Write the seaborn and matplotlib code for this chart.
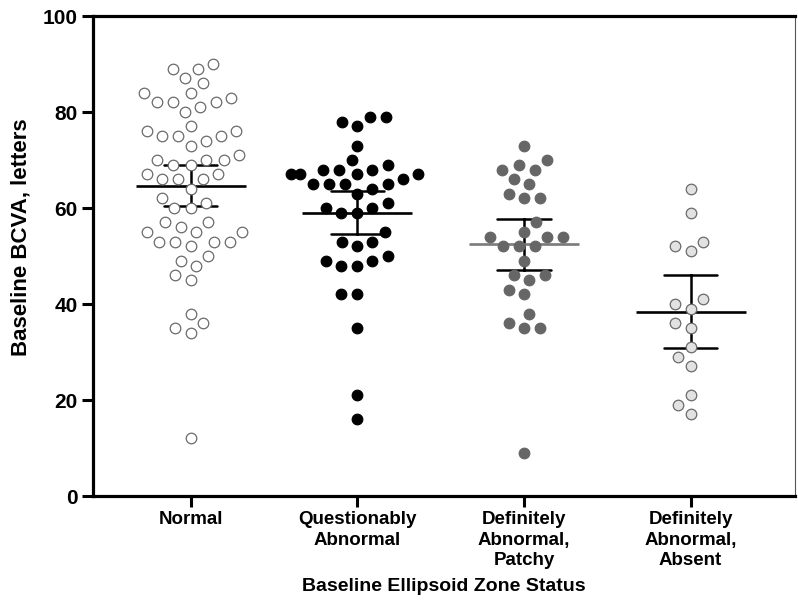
import numpy as np
import pandas as pd
import matplotlib
matplotlib.use("Agg")
import matplotlib.pyplot as plt
import seaborn as sns

groups = ["Normal", "Questionably\nAbnormal", "Definitely\nAbnormal,\nPatchy", "Definitely\nAbnormal,\nAbsent"]

normal = [90, 89, 89, 87, 86, 84, 84, 83, 82, 82, 82, 81, 80, 77, 76, 76, 75, 75, 75, 74,
          73, 71, 70, 70, 70, 69, 69, 67, 67, 66, 66, 66, 64, 62, 61, 60, 60, 57, 57, 56,
          55, 55, 55, 53, 53, 53, 53, 52, 50, 49, 48, 46, 45, 38, 36, 35, 34, 12]
questionable = [79, 79, 78, 77, 73, 70, 69, 68, 67, 68, 67, 67, 67, 68, 66, 65, 65, 65, 65, 64,
                63, 61, 60, 60, 59, 59, 55, 53, 53, 52, 50, 48, 49, 48, 49, 42, 42, 35, 21, 16]
patchy = [73, 70, 69, 68, 68, 66, 65, 63, 62, 62, 57, 55, 54, 54, 54, 52, 52, 52, 49, 46,
          46, 45, 43, 42, 38, 36, 35, 35, 9]
absent = [64, 59, 53, 52, 51, 41, 40, 39, 36, 35, 31, 29, 27, 21, 19, 17]

fill_colors = ["#ffffff", "#000000", "#666666", "#e2e2e2"]
edge_colors = ["#6a6a6a", "#000000", "#666666", "#6a6a6a"]
mean_colors = ["#000000", "#000000", "#7a7a7a", "#000000"]

values = [normal, questionable, patchy, absent]
df = pd.DataFrame({
    "group": np.concatenate([[g] * len(v) for g, v in zip(groups, values)]),
    "value": np.concatenate(values).astype(float),
})


def t_ci(v):
    v = np.asarray(v, dtype=float)
    n = len(v)
    m = v.mean()
    se = v.std(ddof=1) / np.sqrt(n)
    nu = n - 1
    z = 1.959964
    t = (z + (z**3 + z) / (4 * nu) + (5 * z**5 + 16 * z**3 + 3 * z) / (96 * nu**2)
         + (3 * z**7 + 19 * z**5 + 17 * z**3 - 15 * z) / (384 * nu**3))
    return m - t * se, m + t * se


sns.set_theme(style="ticks")
plt.rcParams["font.family"] = ["Liberation Sans", "DejaVu Sans"]
plt.rcParams["font.weight"] = "bold"
for k in ["text.color", "axes.labelcolor", "xtick.color", "ytick.color",
          "xtick.labelcolor", "ytick.labelcolor"]:
    plt.rcParams[k] = "black"

fig = plt.figure(figsize=(7.98, 6.06), dpi=100)
ax = fig.add_axes([93 / 798, 110 / 606, 702 / 798, 480 / 606])

# layout of points (larger spacing, then shrink)
sns.swarmplot(data=df, x="group", y="value", hue="group", order=groups, hue_order=groups,
              palette=fill_colors, size=10.0, linewidth=1.0, legend=False, ax=ax)

# error bars (95% CI, t-based)
sns.pointplot(data=df, x="group", y="value", order=groups, color="black", marker="",
              linestyle="none", errorbar=t_ci, capsize=0.32,
              err_kws={"linewidth": 1.8}, ax=ax)
# mean lines
sns.pointplot(data=df, x="group", y="value", hue="group", order=groups, hue_order=groups,
              palette=mean_colors, errorbar=None, marker="_", markersize=79,
              markeredgewidth=1.9, linestyle="none", legend=False, ax=ax)

ax.set_xlim(-0.585, 3.626)
ax.set_ylim(0, 100)
ax.set_yticks([0, 20, 40, 60, 80, 100])

fig.canvas.draw()
point_cols = [c for c in ax.collections if len(c.get_offsets()) > 0]
for c, fc, ec in zip(point_cols, fill_colors, edge_colors):
    if "draw" in c.__dict__:
        del c.draw
    c.set_sizes([7.6 ** 2])
    c.set_facecolor(fc)
    c.set_edgecolor(ec)
    c.set_linewidth(0.9)
    c.set_zorder(4)

for side in ["left", "bottom", "top"]:
    ax.spines[side].set_linewidth(2.3)
    ax.spines[side].set_color("black")
ax.spines["right"].set_linewidth(0.8)
ax.spines["right"].set_color("#555555")

ax.tick_params(axis="both", direction="out", length=8, width=2.2, color="black", pad=3)
ax.tick_params(axis="x", labelsize=13.5)
ax.tick_params(axis="y", labelsize=15)
for lab in ax.get_xticklabels():
    lab.set_fontweight("bold")
    lab.set_linespacing(1.25)
for lab in ax.get_yticklabels():
    lab.set_fontweight("bold")

ax.set_xlabel("Baseline Ellipsoid Zone Status", fontsize=14, fontweight="bold")
ax.xaxis.set_label_coords(0.5, -0.17)
ax.set_ylabel("Baseline BCVA, letters", fontsize=16, fontweight="bold")
ax.yaxis.set_label_coords(-0.087, 0.54)

fig.savefig("out.png", dpi=100)
